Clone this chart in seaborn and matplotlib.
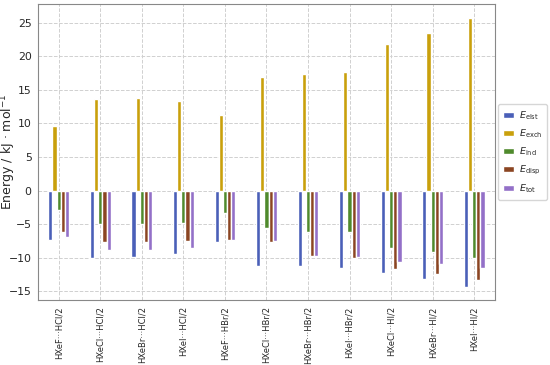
import pandas as pd
import matplotlib
matplotlib.use('Agg')
import matplotlib.pyplot as plt
import seaborn as sns

# -------------------------
# Data (kJ/mol)
# -------------------------
complexes = ['HXeF···HCl/2', 'HXeCl···HCl/2', 'HXeBr···HCl/2', 'HXeI···HCl/2',
             'HXeF···HBr/2', 'HXeCl···HBr/2', 'HXeBr···HBr/2', 'HXeI···HBr/2',
             'HXeCl···HI/2', 'HXeBr···HI/2', 'HXeI···HI/2']
terms = ['$E_{\\mathrm{elst}}$', '$E_{\\mathrm{exch}}$', '$E_{\\mathrm{ind}}$',
         '$E_{\\mathrm{disp}}$', '$E_{\\mathrm{tot}}$']

e_elst = [-7.3, -10.0, -9.9, -9.5, -7.7, -11.3, -11.3, -11.6, -12.2, -13.1, -14.3]
e_exch = [9.6, 13.7, 13.8, 13.3, 11.2, 16.9, 17.4, 17.6, 21.8, 23.5, 25.7]
e_ind = [-2.9, -5.0, -5.0, -4.8, -3.4, -5.5, -6.1, -6.1, -8.6, -9.1, -10.0]
e_disp = [-6.1, -7.6, -7.6, -7.5, -7.4, -7.6, -9.8, -10.0, -11.7, -12.4, -13.3]
e_tot = [-6.9, -8.8, -8.8, -8.6, -7.3, -7.5, -9.8, -9.9, -10.6, -11.0, -11.6]

colors = ['#4a5fb8', '#c9a00c', '#4f8a2c', '#8b4522', '#9370c8']

df = pd.DataFrame({'complex': complexes, terms[0]: e_elst, terms[1]: e_exch,
                   terms[2]: e_ind, terms[3]: e_disp, terms[4]: e_tot})
long = df.melt(id_vars='complex', var_name='term', value_name='energy')

# -------------------------
# Plot
# -------------------------
sns.set_style('whitegrid', {'grid.linestyle': '--', 'grid.color': '#d0d0d0',
                            'axes.edgecolor': '#888888'})

fig = plt.figure(figsize=(5.5, 3.65), dpi=100)
ax = fig.add_axes([0.069, 0.178, 0.831, 0.811])

sns.barplot(data=long, x='complex', y='energy', hue='term', hue_order=terms,
            palette=colors, width=0.5, gap=0, saturation=1, ax=ax)

ax.set_xlim(-0.5, len(complexes) - 0.5)
ax.set_ylim(-16.3, 27.8)
ax.set_xlabel('')
ax.set_ylabel('Energy / kJ · mol$^{-1}$', fontsize=9)
ax.yaxis.set_label_coords(-0.043, 0.5)
ax.tick_params(axis='x', labelrotation=90, labelsize=6.0, length=3, color='#888888', pad=1.5)
ax.tick_params(axis='y', labelsize=7.8, length=3, color='#888888', pad=1.5)
ax.grid(True, axis='both', linestyle='--', linewidth=0.7, color='#d0d0d0')
ax.set_axisbelow(True)
for s in ax.spines.values():
    s.set_visible(True)
    s.set_color('#888888')

ax.legend(loc='center left', bbox_to_anchor=(1.003, 0.5), fontsize=6.8,
          frameon=True, handlelength=1.2, handletextpad=0.5, borderpad=0.5,
          labelspacing=0.6, borderaxespad=0.2)

plt.savefig('out.png', dpi=100)
